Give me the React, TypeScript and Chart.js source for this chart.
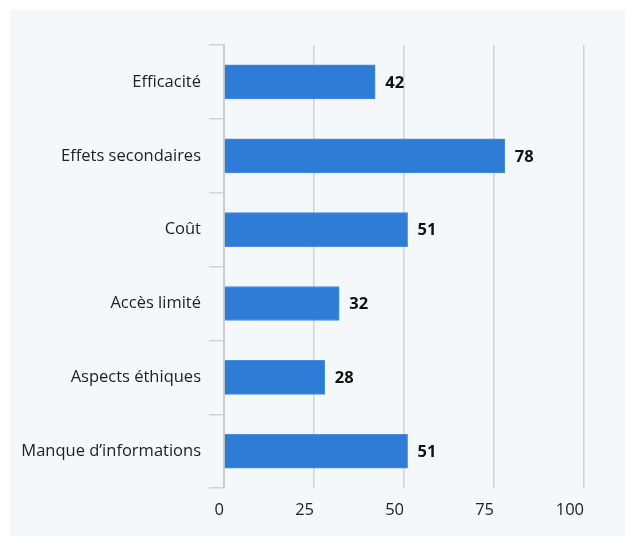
import React, { useEffect, useRef } from "react";
import { Chart, registerables } from "chart.js";

Chart.register(...registerables);

const categories = [
  "Efficacité",
  "Effets secondaires",
  "Coût",
  "Accès limité",
  "Aspects éthiques",
  "Manque d’informations",
];
const values = [42, 78, 51, 32, 28, 51];
const xTicks = [0, 25, 50, 75, 100];

const FONT = "'Open Sans', 'Noto Sans', sans-serif";

const valueLabels = {
  id: "valueLabels",
  afterDatasetsDraw(chart: any) {
    const ctx = chart.ctx;
    const meta = chart.getDatasetMeta(0);
    ctx.save();
    ctx.font = `bold 16.5px ${FONT}`;
    ctx.fillStyle = "#111";
    ctx.textAlign = "left";
    ctx.textBaseline = "middle";
    meta.data.forEach((bar: any, i: number) => {
      ctx.fillText(String(values[i]), bar.x + 10, bar.y + 1);
    });
    ctx.restore();
  },
};

export default function App() {
  const ref = useRef<HTMLCanvasElement | null>(null);
  useEffect(() => {
    document.body.style.margin = "0";
    const chart = new Chart(ref.current!, {
      type: "bar",
      data: {
        labels: categories,
        datasets: [
          {
            data: values,
            backgroundColor: "#2e7cd6",
            borderColor: "#4a8fe0",
            borderWidth: 1,
            barThickness: 34,
          },
        ],
      },
      options: {
        indexAxis: "y",
        animation: false,
        responsive: false,
        layout: { padding: { top: 35, right: 41, bottom: 4, left: 0 } },
        plugins: { legend: { display: false }, tooltip: { enabled: false } },
        scales: {
          x: {
            min: 0,
            max: 100,
            afterBuildTicks(scale: any) {
              scale.ticks = xTicks.map((v) => ({ value: v }));
            },
            grid: { color: "#d2d2d2", lineWidth: 1.5, drawTicks: false },
            border: { display: false },
            ticks: {
              padding: 12,
              align: "end",
              color: "#222",
              font: { family: FONT, size: 16.5 },
            },
          },
          y: {
            afterFit(scale: any) {
              scale.width = 214;
            },
            grid: {
              offset: true,
              drawOnChartArea: false,
              tickLength: 15,
              color: "#c8d5e2",
              lineWidth: 1.5,
            },
            border: { display: true, color: "#cccccc", width: 2 },
            ticks: { padding: 8, color: "#222", font: { family: FONT, size: 16.5 } },
          },
        },
      },
      plugins: [valueLabels],
    });
    return () => chart.destroy();
  }, []);
  return (
    <div
      style={{
        position: "absolute",
        left: 10,
        top: 10,
        width: 615,
        height: 526,
        background: "#f4f8fa",
      }}
    >
      <canvas ref={ref} width={615} height={526} />
    </div>
  );
}
